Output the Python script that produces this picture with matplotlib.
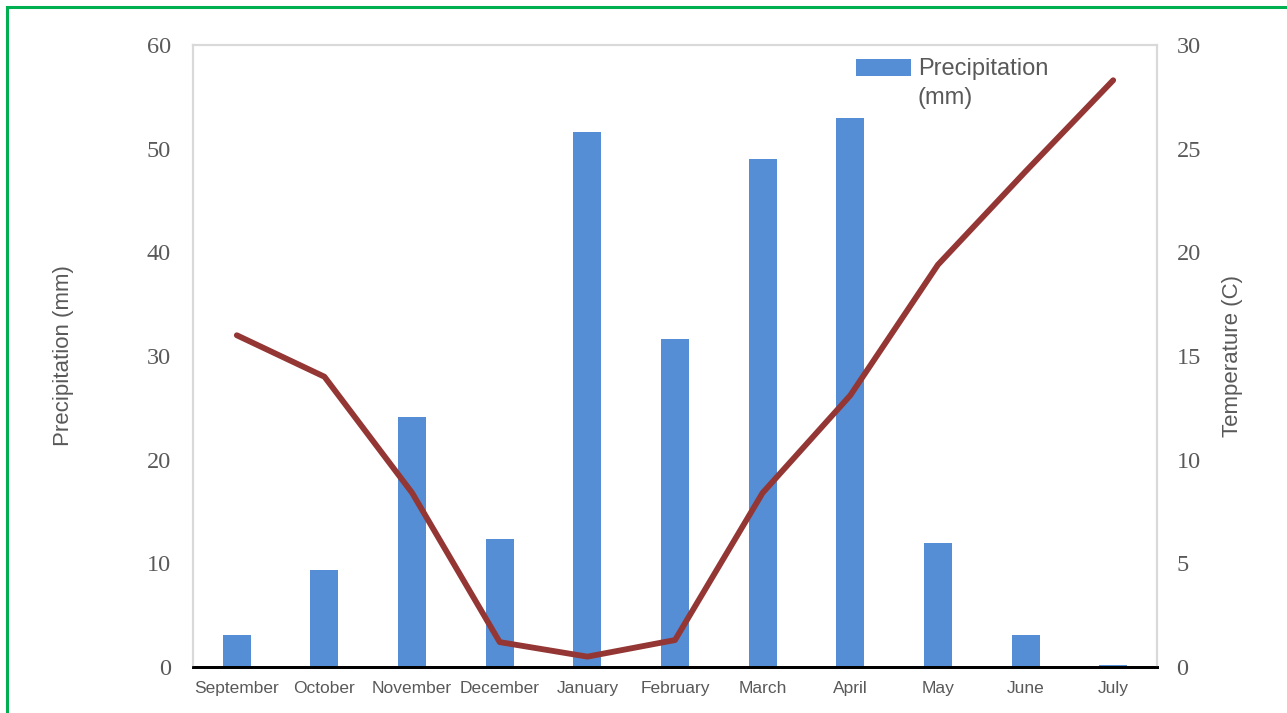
import numpy as np
import matplotlib.pyplot as plt
from matplotlib.patches import Rectangle
from matplotlib.container import BarContainer
from matplotlib.legend_handler import HandlerPatch, update_from_first_child

months = ["September", "October", "November", "December", "January", "February",
          "March", "April", "May", "June", "July"]
precip_mm = [3.1, 9.4, 24.1, 12.3, 51.6, 31.6, 49.0, 53.0, 12.0, 3.1, 0.2]
temp_c = [16.0, 14.0, 8.4, 1.2, 0.5, 1.3, 8.4, 13.1, 19.4, 23.9, 28.3]

gray = "#595959"


def raised_patch(legend, orig_handle, xdescent, ydescent, width, height, fontsize):
    # keep the swatch level with the first line of a two-line label
    return Rectangle((-xdescent, -ydescent + 0.7 * fontsize), width, height)


fig = plt.figure(figsize=(12.87, 7.13), dpi=100)
ax = fig.add_axes([193 / 1287, 1 - 667 / 713, (1157 - 193) / 1287, (667 - 45) / 713])
ax2 = ax.twinx()

x = np.arange(len(months))
ax.bar(x, precip_mm, width=0.32, color="#558ed5", label="Precipitation\n(mm)", zorder=2)
ax2.plot(x, temp_c, color="#943634", lw=4.2, solid_capstyle="round", zorder=3)

ax.set_xlim(-0.5, len(months) - 0.5)
ax.set_ylim(0, 60)
ax2.set_ylim(0, 30)
ax.set_yticks(range(0, 61, 10))
ax2.set_yticks(range(0, 31, 5))
ax.set_xticks(x)
ax.set_xticklabels(months, fontsize=12.5, color=gray, family="Liberation Sans")

for a in (ax, ax2):
    a.tick_params(length=0)
    for lab in a.get_yticklabels():
        lab.set_family("Liberation Serif")
        lab.set_fontsize(17.5)
        lab.set_color(gray)
    for side in ("left", "right", "top"):
        a.spines[side].set_color("#d9d9d9")
        a.spines[side].set_linewidth(1.5)
    a.spines["bottom"].set_color("black")
    a.spines["bottom"].set_linewidth(2)
ax.tick_params(axis="y", pad=16)
ax2.tick_params(axis="y", pad=14)
ax.tick_params(axis="x", pad=10)

ax.set_ylabel("Precipitation (mm)", fontsize=16, color=gray, family="Liberation Sans", labelpad=52)
ax2.set_ylabel("Temperature (C)", fontsize=16, color=gray, family="Liberation Sans", labelpad=15)

leg = ax.legend(loc="upper left", bbox_to_anchor=(0.666, 1.013), frameon=False,
                prop={"family": "Liberation Sans", "size": 17}, handlelength=2.3,
                handleheight=0.7, handletextpad=0.3, labelspacing=0.2,
                handler_map={BarContainer: HandlerPatch(patch_func=raised_patch,
                                                        update_func=update_from_first_child)})
for t in leg.get_texts():
    t.set_color(gray)
    t.set_linespacing(1.4)

# green frame around the figure
fig.patches.append(Rectangle((7 / 1287, -0.05), 1.1, 1 - 7 / 713 + 0.05, transform=fig.transFigure,
                             fill=False, edgecolor="#00b050", lw=2.2))

fig.savefig("out.png", dpi=100)
